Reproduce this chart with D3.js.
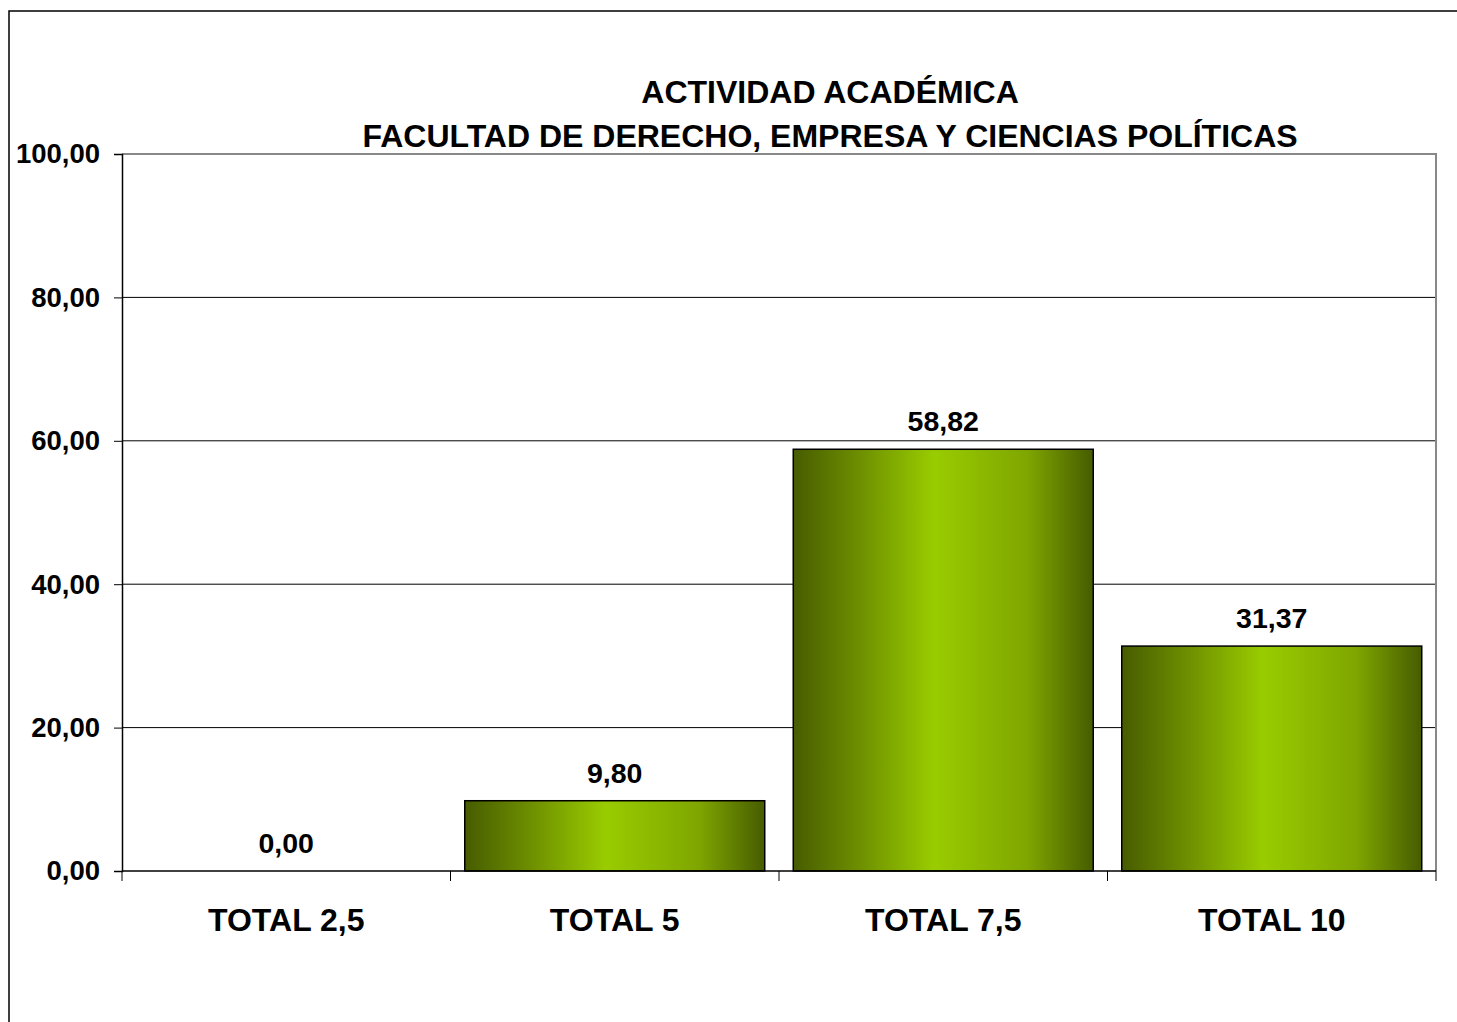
<!DOCTYPE html>
<html>
<head>
<meta charset="utf-8">
<script src="https://cdn.jsdelivr.net/npm/d3@7"></script>
<style>
  body { margin: 0; background: #fff; }
  text { font-family: "Liberation Sans", Arial, sans-serif; font-weight: bold; fill: #000; }
</style>
</head>
<body>
<svg width="1457" height="1022"></svg>
<script>
// chart data
var categories = ["TOTAL 2,5", "TOTAL 5", "TOTAL 7,5", "TOTAL 10"];
var values = [0.00, 9.80, 58.82, 31.37];
var yTicks = [0, 20, 40, 60, 80, 100];
var titleLines = ["ACTIVIDAD ACADÉMICA", "FACULTAD DE DERECHO, EMPRESA Y CIENCIAS POLÍTICAS"];

var margins = { top: 154, bottom: 151, left: 122, right: 21 };
var screen = { width: 1457, height: 1022 };
var width = screen.width - margins.left - margins.right;
var height = screen.height - margins.top - margins.bottom;

var locale = d3.formatLocale({ decimal: ",", thousands: ".", grouping: [3], currency: ["", ""] });
var fmt = locale.format(".2f");

var svg = d3.select("svg");

// outer chart border (clipped at right / bottom like the original)
svg.append("rect")
  .attr("x", 9).attr("y", 11)
  .attr("width", 1470).attr("height", 1030)
  .attr("fill", "none").attr("stroke", "#000").attr("stroke-width", 1.5);

var defs = svg.append("defs");
var grad = defs.append("linearGradient")
  .attr("id", "barGrad")
  .attr("x1", "0%").attr("x2", "100%").attr("y1", "0%").attr("y2", "0%");
grad.append("stop").attr("offset", "0%").attr("stop-color", "#475c00");
grad.append("stop").attr("offset", "20%").attr("stop-color", "#6a8a00");
grad.append("stop").attr("offset", "47%").attr("stop-color", "#99cc00");
grad.append("stop").attr("offset", "78%").attr("stop-color", "#7fa600");
grad.append("stop").attr("offset", "100%").attr("stop-color", "#475c00");

var xScale = d3.scaleBand()
  .domain(categories)
  .range([0, width])
  .paddingInner(0.0868)
  .paddingOuter(0.0434);
var yScale = d3.scaleLinear()
  .domain([0, 100])
  .range([height, 0]);

var plot = svg.append("g")
  .attr("transform", "translate(" + margins.left + "," + margins.top + ")");

// gridlines
plot.selectAll(".grid")
  .data(yTicks.filter(function(d) { return d > 0 && d < 100; }))
  .enter().append("line")
  .attr("x1", 0).attr("x2", width)
  .attr("y1", function(d) { return yScale(d); })
  .attr("y2", function(d) { return yScale(d); })
  .attr("stroke", "#000").attr("stroke-width", 1);

// plot area border top/right (gray)
plot.append("path")
  .attr("d", "M0," + yScale(100) + "H" + width + "V" + height)
  .attr("fill", "none").attr("stroke", "#888").attr("stroke-width", 2);

// bars
plot.selectAll(".bar")
  .data(values)
  .enter().append("rect")
  .attr("x", function(d, i) { return xScale(categories[i]); })
  .attr("y", function(d) { return yScale(d); })
  .attr("width", xScale.bandwidth())
  .attr("height", function(d) { return height - yScale(d); })
  .attr("fill", "url(#barGrad)")
  .attr("stroke", function(d) { return d > 0 ? "#000" : "none"; })
  .attr("stroke-width", 1.5);

// value labels
plot.selectAll(".val")
  .data(values)
  .enter().append("text")
  .attr("x", function(d, i) { return xScale(categories[i]) + xScale.bandwidth() / 2; })
  .attr("y", function(d) { return yScale(d) - 18; })
  .attr("text-anchor", "middle")
  .style("font-size", "28.5px")
  .text(function(d) { return fmt(d); });

// y axis
var yAxis = d3.axisLeft(yScale)
  .tickValues(yTicks)
  .tickSize(8)
  .tickPadding(14)
  .tickFormat(fmt);
var yG = plot.append("g").call(yAxis);
yG.select(".domain").attr("stroke", "#000").attr("stroke-width", 1.5);
yG.selectAll(".tick line").attr("stroke", "#000");
yG.selectAll(".tick text")
  .style("font-size", "27.5px")
  .style("font-family", "'Liberation Sans', Arial, sans-serif")
  .attr("fill", "#000");

// x axis line
plot.append("line")
  .attr("x1", 0).attr("x2", width)
  .attr("y1", height).attr("y2", height)
  .attr("stroke", "#000").attr("stroke-width", 1.5);

// x ticks between categories
var step = xScale.step();
var bounds = categories.map(function(c) { return xScale(c) - step * xScale.paddingInner() / 2; });
bounds.push(width);
plot.selectAll(".xtick")
  .data(bounds)
  .enter().append("line")
  .attr("x1", function(d) { return d; }).attr("x2", function(d) { return d; })
  .attr("y1", height).attr("y2", height + 10)
  .attr("stroke", "#000").attr("stroke-width", 1);

// x labels
plot.selectAll(".xlab")
  .data(categories)
  .enter().append("text")
  .attr("x", function(d) { return xScale(d) + xScale.bandwidth() / 2; })
  .attr("y", height + 60)
  .attr("text-anchor", "middle")
  .style("font-size", "32px")
  .text(function(d) { return d; });

// title
svg.selectAll(".title")
  .data(titleLines)
  .enter().append("text")
  .attr("x", 830)
  .attr("y", function(d, i) { return 103 + i * 44; })
  .attr("text-anchor", "middle")
  .style("font-size", "32px")
  .text(function(d) { return d; });
</script>
</body>
</html>
